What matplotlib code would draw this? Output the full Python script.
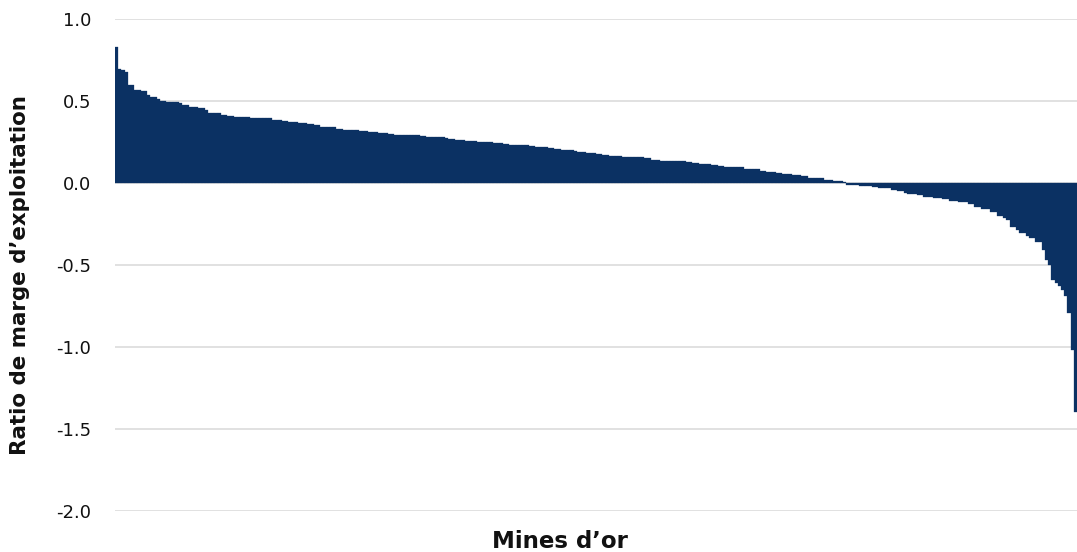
import matplotlib
matplotlib.use("Agg")
import matplotlib.pyplot as plt
import numpy as np

plt.rcParams['font.family'] = ['DejaVu Sans']
plt.rcParams['axes.unicode_minus'] = False

# Operating margin ratio of each gold mine, sorted from highest to lowest
margins_positive = [
    0.827, 0.693, 0.689, 0.675, 0.598, 0.598, 0.567, 0.567, 0.561, 0.561,
    0.537, 0.522, 0.522, 0.510, 0.498, 0.498, 0.491, 0.491, 0.491, 0.491,
    0.486, 0.476, 0.476, 0.465, 0.465, 0.465, 0.459, 0.459, 0.445, 0.429,
    0.429, 0.425, 0.425, 0.417, 0.417, 0.410, 0.410, 0.404, 0.404, 0.404,
    0.404, 0.404, 0.398, 0.398, 0.398, 0.398, 0.398, 0.396, 0.396, 0.386,
    0.386, 0.386, 0.378, 0.378, 0.372, 0.372, 0.372, 0.364, 0.364, 0.364,
    0.360, 0.360, 0.354, 0.354, 0.343, 0.343, 0.343, 0.340, 0.340, 0.331,
    0.331, 0.325, 0.325, 0.323, 0.323, 0.323, 0.319, 0.319, 0.315, 0.311,
    0.311, 0.311, 0.307, 0.303, 0.303, 0.299, 0.299, 0.295, 0.295, 0.295,
    0.291, 0.291, 0.291, 0.291, 0.291, 0.285, 0.285, 0.282, 0.282, 0.282,
    0.282, 0.279, 0.279, 0.273, 0.266, 0.266, 0.262, 0.262, 0.262, 0.258,
    0.258, 0.256, 0.256, 0.250, 0.250, 0.248, 0.248, 0.248, 0.244, 0.244,
    0.244, 0.240, 0.240, 0.234, 0.234, 0.234, 0.234, 0.232, 0.232, 0.227,
    0.227, 0.220, 0.220, 0.220, 0.220, 0.211, 0.211, 0.207, 0.207, 0.203,
    0.203, 0.199, 0.199, 0.195, 0.187, 0.187, 0.187, 0.183, 0.181, 0.181,
    0.177, 0.177, 0.171, 0.171, 0.165, 0.165, 0.165, 0.165, 0.159, 0.159,
    0.159, 0.159, 0.159, 0.157, 0.157, 0.151, 0.151, 0.142, 0.142, 0.142,
    0.136, 0.136, 0.136, 0.132, 0.132, 0.132, 0.132, 0.132, 0.126, 0.126,
    0.124, 0.124, 0.114, 0.114, 0.114, 0.114, 0.110, 0.110, 0.104, 0.104,
    0.096, 0.096, 0.096, 0.096, 0.096, 0.096, 0.084, 0.084, 0.084, 0.084,
    0.084, 0.075, 0.075, 0.067, 0.067, 0.067, 0.063, 0.063, 0.053, 0.053,
    0.053, 0.047, 0.047, 0.047, 0.043, 0.043, 0.029, 0.029, 0.029, 0.029,
    0.029, 0.018, 0.018, 0.018, 0.012, 0.012, 0.012, 0.006,
]
margins_negative = [
    -0.010, -0.010, -0.010, -0.010, -0.018, -0.018, -0.018, -0.018, -0.026, -0.026,
    -0.032, -0.032, -0.032, -0.032, -0.043, -0.043, -0.049, -0.049, -0.059, -0.067,
    -0.067, -0.067, -0.075, -0.075, -0.083, -0.083, -0.083, -0.090, -0.090, -0.090,
    -0.098, -0.098, -0.108, -0.108, -0.108, -0.118, -0.118, -0.118, -0.130, -0.130,
    -0.144, -0.144, -0.157, -0.157, -0.157, -0.175, -0.175, -0.201, -0.201, -0.215,
    -0.226, -0.270, -0.270, -0.287, -0.307, -0.307, -0.323, -0.337, -0.337, -0.358,
    -0.358, -0.409, -0.470, -0.500, -0.591, -0.612, -0.628, -0.652, -0.689, -0.791,
    -1.018, -1.395,
]
margins = margins_positive + margins_negative

y_ticks = [1.0, 0.5, 0.0, -0.5, -1.0, -1.5, -2.0]
y_tick_labels = ["1.0", "0.5", "0.0", "-0.5", "-1.0", "-1.5", "-2.0"]
y_label = "Ratio de marge d\u2019exploitation"
x_label = "Mines d\u2019or"

bar_color = "#0b3163"
grid_color = "#d9d9d9"
text_color = "#111111"

fig = plt.figure(figsize=(10.77, 5.52), dpi=100)
ax = fig.add_axes([115 / 1077, 1 - 511 / 552, (1077 - 115) / 1077, (511 - 19) / 552])

x = np.arange(len(margins))
ax.bar(x, margins, width=1.0, color=bar_color, edgecolor=bar_color, linewidth=0.2, zorder=3)

ax.set_xlim(-0.5, len(margins) - 0.5)
ax.set_ylim(-2.0, 1.0)
ax.set_yticks(y_ticks)
ax.set_yticklabels(y_tick_labels, fontsize=13, color=text_color)
ax.set_xticks([])
ax.tick_params(axis='y', length=0, pad=17)
ax.yaxis.grid(True, color=grid_color, linewidth=1.1, zorder=0)
ax.set_axisbelow(True)
for s in ax.spines.values():
    s.set_visible(False)

fig.text(20 / 1077, 1 - 275 / 552, y_label, rotation=90, ha='center', va='center',
         fontsize=15.4, fontweight='bold', color=text_color)
fig.text(560 / 1077, 1 - 541 / 552, x_label, ha='center', va='center',
         fontsize=16.5, fontweight='bold', color=text_color)

fig.savefig("out.png", dpi=100)
